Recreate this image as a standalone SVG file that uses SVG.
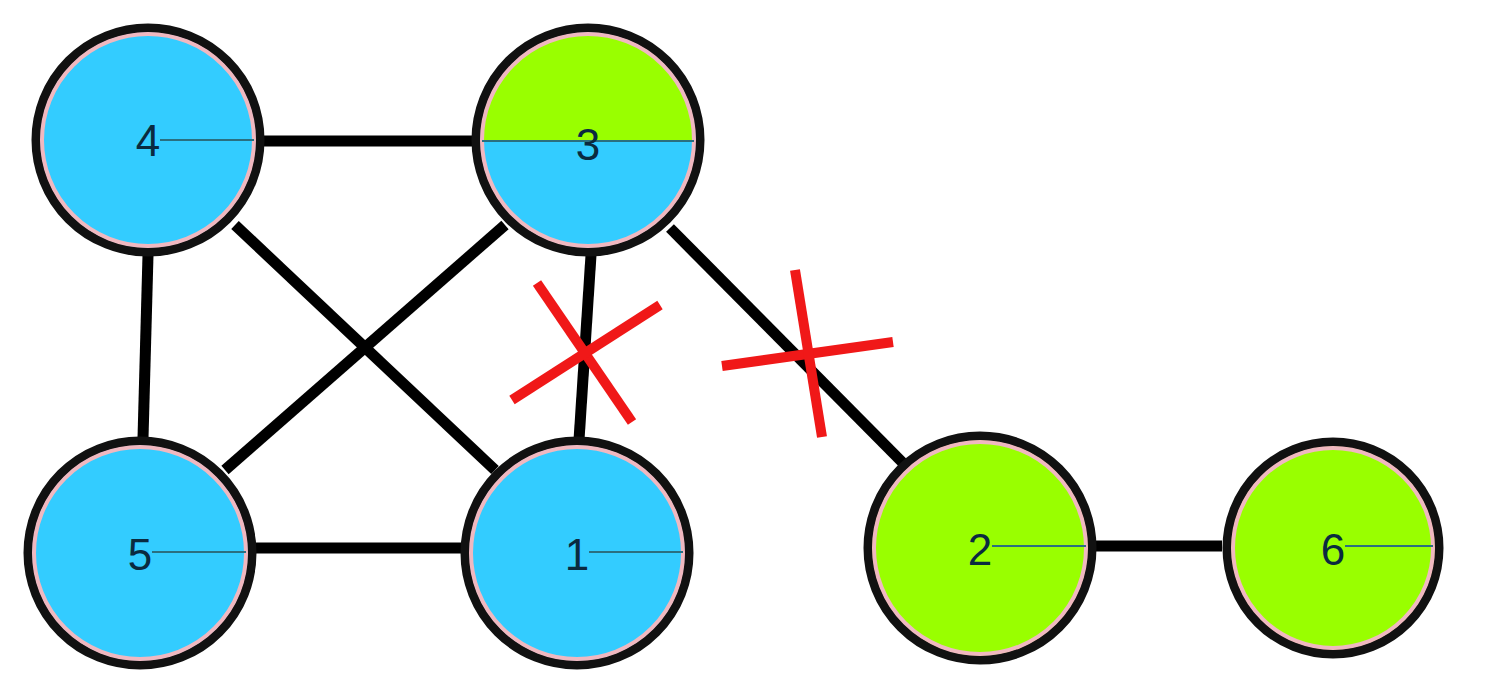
<svg xmlns="http://www.w3.org/2000/svg" width="1487" height="698" viewBox="0 0 1487 698">
<style>
.e{stroke:#000;stroke-width:11;stroke-linecap:butt}
.x{stroke:#f01818;stroke-width:10}
.o{stroke:#111;stroke-width:9}
.p{fill:none;stroke:#f0b8c0;stroke-width:4}
.h{stroke:#2a6f80;stroke-width:2}
.t{font-family:"Liberation Sans",Arial,sans-serif;font-size:44px;fill:#0a2a40;text-anchor:middle}
.b{fill:#33ccff}.g{fill:#99ff00}
</style>
<rect width="1487" height="698" fill="#fff"/>
<g id="connectors">
<line class="e" x1="262" y1="141" x2="475" y2="141"/>
<line class="e" x1="148" y1="255" x2="143" y2="438"/>
<line class="e" x1="235" y1="225" x2="495" y2="470"/>
<line class="e" x1="225" y1="470" x2="505" y2="225"/>
<line class="e" x1="255" y1="548" x2="462" y2="548"/>
<line class="e" x1="591" y1="255" x2="579" y2="440"/>
<line class="e" x1="670" y1="228" x2="905" y2="465"/>
<line class="e" x1="1095" y1="546" x2="1222" y2="546"/>
<line class="x" x1="537" y1="283" x2="632" y2="422"/>
<line class="x" x1="512" y1="400" x2="660" y2="305"/>
<line class="x" x1="722" y1="366" x2="893" y2="342"/>
<line class="x" x1="795" y1="270" x2="822" y2="437"/>
</g>
<g id="node4"><circle class="o b" cx="148" cy="140" r="112"/><circle class="p" cx="148" cy="140" r="106"/><line class="h" x1="160" y1="140" x2="254" y2="140"/><text class="t" x="148" y="156">4</text></g>
<g id="node3"><circle class="o b" cx="588" cy="140" r="112"/><path class="g" d="M482,141 A106,106 0 0 1 694,141 Z"/><circle class="p" cx="588" cy="140" r="106"/><line class="h" x1="482" y1="141" x2="694" y2="141"/><text class="t" x="588" y="160">3</text></g>
<g id="node5"><circle class="o b" cx="140" cy="553" r="112"/><circle class="p" cx="140" cy="553" r="106"/><line class="h" x1="152" y1="552" x2="246" y2="552"/><text class="t" x="140" y="570">5</text></g>
<g id="node1"><circle class="o b" cx="577" cy="553" r="112"/><circle class="p" cx="577" cy="553" r="106"/><line class="h" x1="589" y1="552" x2="683" y2="552"/><text class="t" x="577" y="570">1</text></g>
<g id="node2"><circle class="o g" cx="980" cy="548" r="112"/><circle class="p" cx="980" cy="548" r="106"/><line class="h" x1="992" y1="546" x2="1086" y2="546"/><text class="t" x="980" y="565">2</text></g>
<g id="node6"><circle class="o g" cx="1333" cy="548" r="106"/><circle class="p" cx="1333" cy="548" r="100"/><line class="h" x1="1345" y1="546" x2="1433" y2="546"/><text class="t" x="1333" y="565">6</text></g>
</svg>
